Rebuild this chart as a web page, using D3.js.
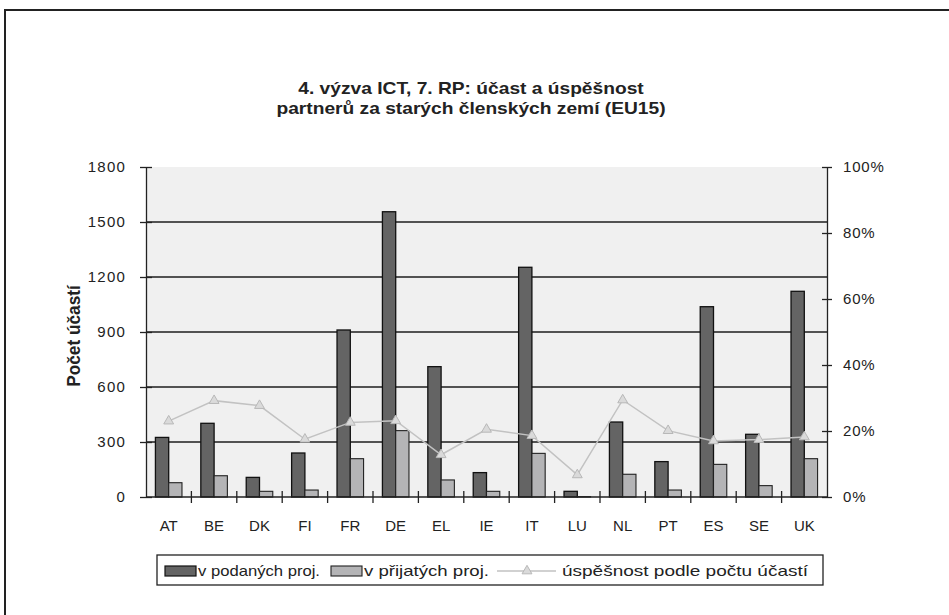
<!DOCTYPE html>
<html><head><meta charset="utf-8">
<script src="https://cdn.jsdelivr.net/npm/d3@7"></script>
<style>
html,body{margin:0;padding:0;background:#fff;}
svg{display:block;font-family:"Liberation Sans",Arial,sans-serif;}
</style></head>
<body>
<svg id="c" width="949" height="615"></svg>
<script>
const categories = ["AT","BE","DK","FI","FR","DE","EL","IE","IT","LU","NL","PT","ES","SE","UK"];
const submitted = [325,402,107,240,911,1556,711,133,1253,31,409,193,1038,342,1122];
const accepted  = [78,116,31,38,209,362,93,31,238,2,124,38,178,62,209];
const successRate = [0.23,0.292,0.277,0.175,0.226,0.231,0.128,0.205,0.186,0.067,0.294,0.201,0.170,0.174,0.182];
const leftTicks = [0,300,600,900,1200,1500,1800];
const rightTicks = [0,0.2,0.4,0.6,0.8,1.0];
const titleLines = ["4. výzva ICT, 7. RP: účast a úspěšnost","partnerů za starých členských zemí (EU15)"];
const yTitle = "Počet účastí";
const seriesNames = ["v podaných proj.","v přijatých proj.","úspěšnost podle počtu účastí"];

const svg = d3.select("#c");
const L = 146, R = 827, T = 167, B = 497;

// outer frame
svg.append("rect").attr("x",5).attr("y",10).attr("width",1000).attr("height",700)
  .attr("fill","none").attr("stroke","#222").attr("stroke-width",2);

// plot background
svg.append("rect").attr("x",L).attr("y",T).attr("width",R-L).attr("height",B-T).attr("fill","#f0f0f0");

const x = d3.scaleBand().domain(categories).range([L,R]).padding(0);
const xs = d3.scaleBand().domain(["s","a"]).range([0,x.bandwidth()]).paddingInner(0).paddingOuter(0.71);
const y = d3.scaleLinear().domain([0,1800]).range([B,T]);
const y2 = d3.scaleLinear().domain([0,1]).range([B,T]);

// gridlines
svg.append("g").selectAll("line").data(leftTicks.filter(d=>d>0 && d<1800)).join("line")
  .attr("x1",L).attr("x2",R).attr("y1",d=>y(d)).attr("y2",d=>y(d))
  .attr("stroke","#1e1e1e").attr("stroke-width",1.4);

// bars
const g = svg.append("g");
g.selectAll("rect.s").data(categories).join("rect").attr("class","s")
  .attr("x",(d)=>x(d)+xs("s")).attr("width",xs.bandwidth())
  .attr("y",(d,i)=>y(submitted[i])).attr("height",(d,i)=>B-y(submitted[i]))
  .attr("fill","#646464").attr("stroke","#111").attr("stroke-width",1.3);
g.selectAll("rect.a").data(categories).join("rect").attr("class","a")
  .attr("x",(d)=>x(d)+xs("a")).attr("width",xs.bandwidth())
  .attr("y",(d,i)=>y(accepted[i])).attr("height",(d,i)=>B-y(accepted[i]))
  .attr("fill","#b4b4b6").attr("stroke","#222").attr("stroke-width",1.1);

// line
const cx = d=>x(d)+x.bandwidth()/2;
svg.append("path").datum(categories)
  .attr("d",d3.line().x(cx).y((d,i)=>y2(successRate[i])))
  .attr("fill","none").attr("stroke","#c2c2c2").attr("stroke-width",1.5);
svg.append("g").selectAll("path").data(categories).join("path")
  .attr("transform",(d,i)=>`translate(${cx(d)},${y2(successRate[i])})`)
  .attr("d",d3.symbol(d3.symbolTriangle,42))
  .attr("fill","#dadada").attr("stroke","#b8b8b8").attr("stroke-width",1);

// axes
function crossTicks(sel){
  sel.selectAll(".tick line").attr("x1",6).attr("x2",-6)
    .attr("stroke","#222").attr("stroke-width",1.3);
  sel.select(".domain").attr("stroke","#222").attr("stroke-width",1.3);
}
const ax = svg.append("g").attr("transform",`translate(${L},0)`)
  .call(d3.axisLeft(y).tickValues(leftTicks).tickSize(6).tickSizeOuter(0).tickPadding(14).tickFormat(d3.format("d")));
crossTicks(ax);
ax.selectAll("text").attr("font-size",15).attr("fill","#222").style("letter-spacing","1.2px")
  .attr("font-family","'Liberation Sans',Arial,sans-serif");

const ax2 = svg.append("g").attr("transform",`translate(${R},0)`)
  .call(d3.axisRight(y2).tickValues(rightTicks).tickSize(6).tickSizeOuter(0).tickPadding(10).tickFormat(d3.format(".0%")));
crossTicks(ax2);
ax2.selectAll(".tick line").attr("x1",-5).attr("x2",5);
ax2.selectAll("text").attr("font-size",15).attr("fill","#222").style("letter-spacing","0.8px")
  .attr("font-family","'Liberation Sans',Arial,sans-serif");

// bottom axis: ticks at band boundaries
const xb = svg.append("g").attr("transform",`translate(0,${B})`);
xb.append("line").attr("x1",L).attr("x2",R).attr("stroke","#222").attr("stroke-width",1.3);
xb.selectAll("line.t").data(categories.slice(1)).join("line").attr("class","t")
  .attr("x1",d=>x(d)).attr("x2",d=>x(d)).attr("y1",-6).attr("y2",6)
  .attr("stroke","#222").attr("stroke-width",1.3);
xb.selectAll("text").data(categories).join("text")
  .attr("x",cx).attr("y",34).attr("text-anchor","middle")
  .attr("font-size",15).attr("fill","#222").text(d=>d);

// title
const tg = svg.append("g");
titleLines.forEach((t,i)=>{
  tg.append("text").attr("transform",`translate(471,${94+i*20}) scale(1.2,1)`)
    .attr("text-anchor","middle").attr("font-weight","bold").attr("font-size",16)
    .attr("fill","#222").text(t);
});

// y title
svg.append("text").attr("transform",`translate(80,336) rotate(-90) scale(1.15,1.25)`)
  .attr("text-anchor","middle").attr("font-weight","bold").attr("font-size",15)
  .attr("fill","#222").text(yTitle);

// legend
const lg = svg.append("g");
lg.append("rect").attr("x",157).attr("y",555).attr("width",666).attr("height",30)
  .attr("fill","#fff").attr("stroke","#222").attr("stroke-width",1.3);
const ly = 570;
lg.append("rect").attr("x",165).attr("y",ly-4).attr("width",31).attr("height",10)
  .attr("fill","#646464").attr("stroke","#111").attr("stroke-width",1.2);
lg.append("text").attr("x",198).attr("y",ly+6).attr("font-size",15).attr("fill","#222")
  .attr("textLength",122).attr("lengthAdjust","spacingAndGlyphs").text(seriesNames[0]);
lg.append("rect").attr("x",331).attr("y",ly-4).attr("width",31).attr("height",10)
  .attr("fill","#b4b4b6").attr("stroke","#222").attr("stroke-width",1.1);
lg.append("text").attr("x",364).attr("y",ly+6).attr("font-size",15).attr("fill","#222")
  .attr("textLength",125).attr("lengthAdjust","spacingAndGlyphs").text(seriesNames[1]);
lg.append("line").attr("x1",497).attr("x2",556).attr("y1",ly+1).attr("y2",ly+1)
  .attr("stroke","#c2c2c2").attr("stroke-width",1.5);
lg.append("path").attr("transform",`translate(527,${ly+1})`).attr("d",d3.symbol(d3.symbolTriangle,42))
  .attr("fill","#dadada").attr("stroke","#b8b8b8");
lg.append("text").attr("x",562).attr("y",ly+6).attr("font-size",15).attr("fill","#222")
  .attr("textLength",246).attr("lengthAdjust","spacingAndGlyphs").text(seriesNames[2]);
</script>
</body></html>
